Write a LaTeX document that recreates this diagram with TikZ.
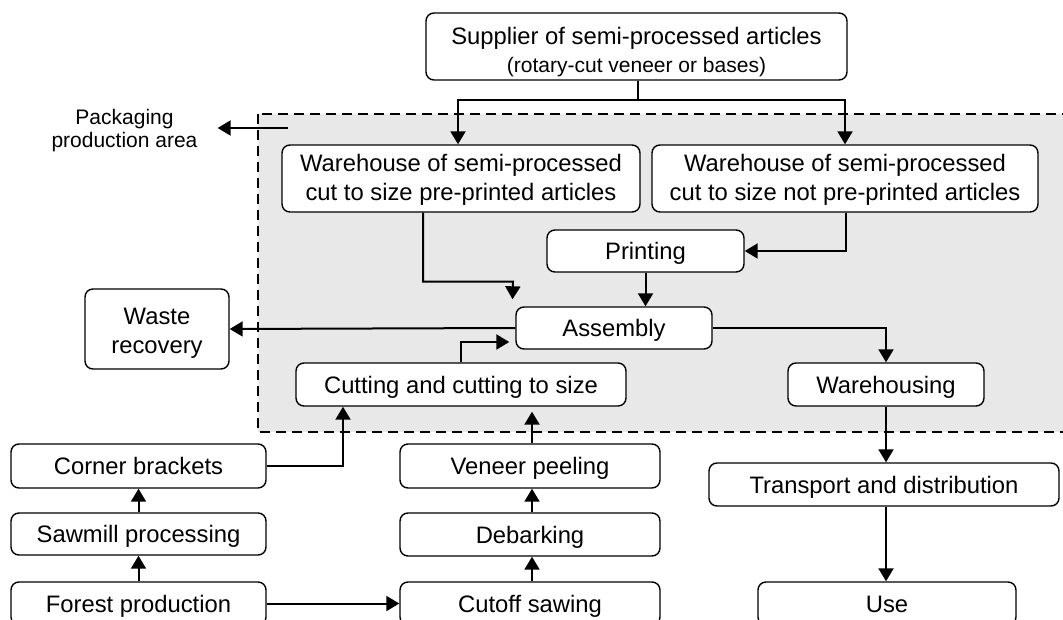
\documentclass[tikz,border=0pt]{standalone}
\usepackage{fontspec}
\setmainfont{Liberation Sans}
\usetikzlibrary{arrows.meta,calc}
\definecolor{areagray}{HTML}{E8E8E8}
\begin{document}
\begin{tikzpicture}[x=1pt,y=-1pt,
  font=\fontsize{23.8}{29}\selectfont,
  stage/.style={draw, line width=1.4pt, rounded corners=8pt, fill=white,
    align=center, inner sep=0pt, minimum height=43pt},
  single/.style={stage, text height=17pt, text depth=0pt},
  double/.style={stage, minimum height=67pt, text height=45pt, text depth=0pt},
  flow/.style={line width=2pt, -{Triangle[length=13pt,width=15pt]}},
  link/.style={line width=2pt},
  area/.style={draw, dash pattern=on 10pt off 6pt, line width=2.4pt, fill=areagray}]
\useasboundingbox (0,0) rectangle (1063,620);
\clip (0,0) rectangle (1063,620);

% packaging production area
\draw[area] (258,114) rectangle (1075,432);

% stages
\node[stage, minimum width=421pt, minimum height=67pt, text height=53pt, text depth=0pt] (sup) at (636.5,46.5)
  {Supplier of semi-processed articles\\[-1pt]{\fontsize{21}{25}\selectfont (rotary-cut veneer or bases)}};
\node[double, minimum width=358pt] (w1) at (461,178.5)
  {Warehouse of semi-processed\\cut to size pre-printed articles};
\node[double, minimum width=386pt] (w2) at (845,178.5)
  {Warehouse of semi-processed\\cut to size not pre-printed articles};
\node[single, minimum width=197pt, minimum height=42pt] (print) at (645.5,251) {Printing};
\node[single, minimum width=196pt, minimum height=42pt] (asm) at (614,328) {Assembly};
\node[stage, minimum width=144pt, minimum height=80pt, text height=48pt, text depth=0pt] (waste) at (157,329) {Waste\\recovery};
\node[single, minimum width=330pt] (cut) at (461,384.5) {Cutting and cutting to size};
\node[single, minimum width=196pt] (whs) at (886,384.5) {Warehousing};
\node[single, minimum width=255pt, minimum height=44pt] (corner) at (138.5,466) {Corner brackets};
\node[single, minimum width=255pt, minimum height=42pt] (saw) at (138.5,534) {Sawmill processing};
\node[single, minimum width=255pt] (forest) at (138.5,603.5) {Forest production};
\node[single, minimum width=260pt, minimum height=44pt] (veneer) at (530,466) {Veneer peeling};
\node[single, minimum width=260pt] (debark) at (530,534.5) {Debarking};
\node[single, minimum width=260pt] (cutoff) at (530,603.5) {Cutoff sawing};
\node[single, minimum width=350pt] (transport) at (884,484.5) {Transport and distribution};
\node[single, minimum width=258pt] (use) at (887,603.5) {Use};

% area label
\node[align=center, font=\fontsize{21}{23}\selectfont, inner xsep=20pt, inner ysep=0pt,
  text height=38pt, text depth=0pt, anchor=base] (pack) at (124.5,148) {Packaging\\production area};
\coordinate (packtail) at (288,128);

% connectors
\draw[flow] (packtail) -- (packtail -| pack.east);
\draw[link] ([xshift=1.5pt]sup.south) -- ++(0,19) coordinate (split);
\draw[flow] (split) -| ([xshift=-3pt]w1.north);
\draw[flow] (split) -| (w2.north);
\draw[flow, shorten >=7pt] ([xshift=-38pt]w1.south) |- ++(90,69) -- ([xshift=-3pt]asm.north west);
\draw[flow] ([xshift=1pt]w2.south) |- (print.east);
\draw[flow] (print.south) -- (print.south |- asm.north);
\draw[flow] (asm.west) -- (waste.east);
\draw[flow] (asm.east) -| (whs.north);
\draw[flow, shorten >=6pt] (cut.north) |- ([yshift=-14pt]asm.west);
\draw[flow] (whs.south) -- (whs.south |- transport.north);
\draw[flow] ([xshift=2pt]transport.south) -- ([xshift=2pt]transport.south |- use.north);
\draw[flow] (corner.east) -| ([xshift=-118pt]cut.south);
\draw[flow, shorten >=5pt] ([xshift=2pt]veneer.north) -- ([xshift=2pt]veneer.north |- cut.south);
\draw[flow] (saw.north) -- (corner.south);
\draw[flow] (forest.north) -- (saw.south);
\draw[flow] ([xshift=2pt]debark.north) -- ([xshift=2pt]veneer.south);
\draw[flow] ([xshift=2pt]cutoff.north) -- ([xshift=2pt]debark.south);
\draw[flow] (forest.east) -- (cutoff.west);
\end{tikzpicture}
\end{document}
